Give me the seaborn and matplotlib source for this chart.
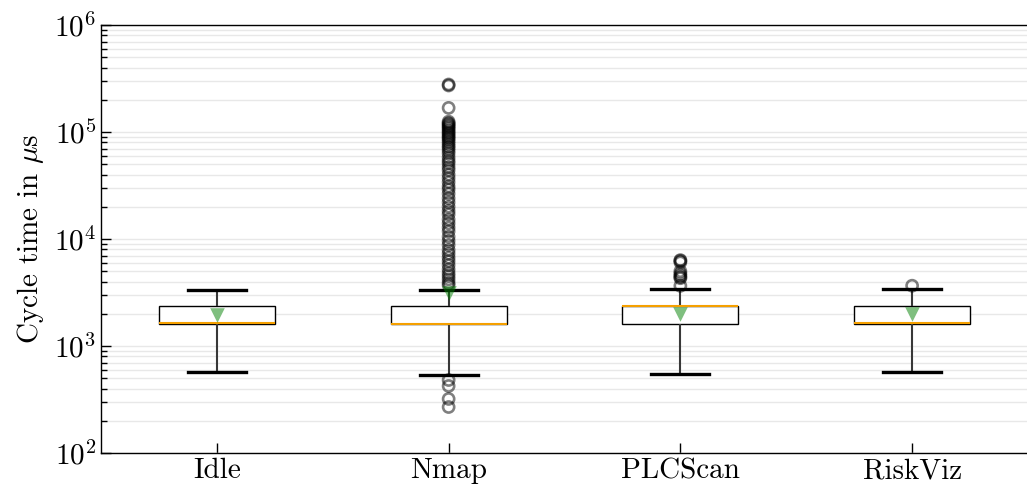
import matplotlib
matplotlib.use("Agg")
import matplotlib.pyplot as plt
import pandas as pd
import seaborn as sns

scenarios = ["Idle", "Nmap", "PLCScan", "RiskViz"]

# Box summary per scenario in µs: lower whisker, Q1, median, Q3, upper whisker
idle_box = [571, 1620, 1640, 2350, 3330]
nmap_box = [540, 1610, 1620, 2350, 3350]
plcscan_box = [545, 1600, 2340, 2360, 3420]
riskviz_box = [570, 1610, 1640, 2350, 3400]

# Outlying cycle times in µs
idle_out = []
nmap_out = [278000, 272000, 168000,
            125000, 121000, 118000, 114000, 111000, 107000, 103000, 99000,
            96000, 92000, 89000, 86000, 82000, 78000, 74000, 71000, 67000,
            63000, 58000, 54000, 51000, 47000, 44000, 40000, 37000, 34000,
            31000, 29000, 26500, 24000, 22000, 20000, 18300, 17000, 15200,
            14000, 12800, 11800, 10500, 9600, 8800, 7900, 7300, 6700, 6200,
            5700, 5200, 4800, 4500, 4200, 3900, 3700,
            481, 423, 320, 269]
plcscan_out = [6350, 6250, 6050, 5000, 4750, 4550, 4400, 4300, 3650]
riskviz_out = [3660]

# Mean cycle time per scenario in µs
means = [1950, 3160, 1970, 1980]

box_values = [idle_box, nmap_box, plcscan_box, riskviz_box]
out_values = [idle_out, nmap_out, plcscan_out, riskviz_out]

box_df = pd.DataFrame({
    "scenario": [s for s, v in zip(scenarios, box_values) for _ in v],
    "cycle": [x for v in box_values for x in v],
})
out_df = pd.DataFrame({
    "scenario": [s for s, v in zip(scenarios, out_values) for _ in v],
    "cycle": [x for v in out_values for x in v],
})
mean_df = pd.DataFrame({"scenario": scenarios, "cycle": means})

plt.rcParams["font.family"] = "cmr10"
plt.rcParams["mathtext.fontset"] = "cm"
plt.rcParams["axes.formatter.use_mathtext"] = True
plt.rcParams["axes.unicode_minus"] = False

fig = plt.figure(figsize=(10.27, 4.92), dpi=100)
ax = fig.add_axes([101 / 1027, 39 / 492, 927 / 1027, 428 / 492])

sns.boxplot(
    data=box_df, x="scenario", y="cycle", order=scenarios, ax=ax,
    whis=(0, 100), width=0.5, showfliers=False, log_scale=True,
    color="white", linecolor="black", linewidth=1, saturation=1,
    boxprops={"facecolor": "white", "edgecolor": "black", "linewidth": 1},
    whiskerprops={"color": "#383838", "linewidth": 1.5},
    capprops={"color": "black", "linewidth": 2.4},
    medianprops={"color": "#f5a000", "linewidth": 1.5},
)

n_before = len(ax.collections)
sns.stripplot(
    data=out_df, x="scenario", y="cycle", order=scenarios, ax=ax,
    jitter=False, size=8, marker="o", color="black", linewidth=1.8,
    zorder=3,
)
for coll in ax.collections[n_before:]:
    coll.set_facecolor("none")
    coll.set_edgecolor((0, 0, 0, 0.5))
    coll.set_linewidth(1.9)

sns.stripplot(
    data=mean_df, x="scenario", y="cycle", order=scenarios, ax=ax,
    jitter=False, size=10.5, marker="v", color="green", linewidth=0,
    alpha=0.5, zorder=4,
)

ax.set_yscale("log")
ax.set_ylim(1e2, 1e6)
ax.set_xlim(-0.5, 3.5)
ax.set_xlabel("")
ax.set_ylabel(r"Cycle time in $\mu$s", fontsize=21, labelpad=6)

ax.yaxis.grid(True, which="both", color="#e8e8e8", linewidth=1)
ax.xaxis.grid(False)
ax.set_axisbelow(True)

ax.tick_params(axis="both", which="major", direction="in", length=7,
               width=1, labelsize=21)
ax.tick_params(axis="y", which="minor", direction="in", length=4, width=1)
ax.tick_params(axis="x", which="minor", bottom=False)
for side in ["left", "bottom", "top", "right"]:
    ax.spines[side].set_color("black")
    ax.spines[side].set_linewidth(1)

fig.savefig("out.png", dpi=100)
